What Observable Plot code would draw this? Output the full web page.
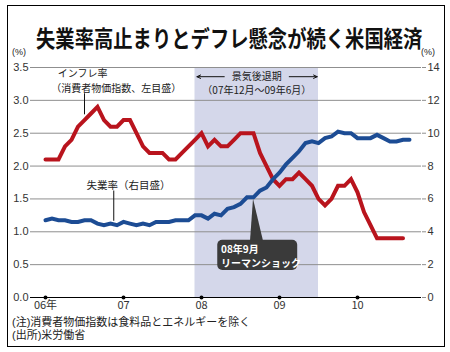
<!DOCTYPE html>
<html><head><meta charset="utf-8">
<script src="https://cdn.jsdelivr.net/npm/d3@7"></script>
<script src="https://cdn.jsdelivr.net/npm/@observablehq/plot@0.6"></script>
<style>
html,body{margin:0;padding:0;background:#fff;}
#wrap{position:relative;width:450px;height:352px;overflow:hidden;font-family:"Noto Sans CJK JP",sans-serif;}
#frame{position:absolute;left:7px;top:5px;width:436px;height:340px;border:1.5px solid #000;}
#title{position:absolute;left:0;width:450px;top:22px;text-align:center;font-size:23px;font-weight:700;line-height:30px;color:#111;white-space:nowrap;transform:scaleX(0.84);transform-origin:225px 0;}
.pct{position:absolute;top:47px;font-size:9px;color:#222;font-family:"Liberation Sans",sans-serif;}
.note{position:absolute;left:12px;font-size:11px;color:#222;line-height:13px;white-space:nowrap;font-family:"Liberation Sans","Noto Sans CJK JP",sans-serif;}
#chart{position:absolute;left:0;top:0;}
</style></head>
<body>
<div id="wrap">
  <div id="frame"></div>
  <div id="title">失業率高止まりとデフレ懸念が続く米国経済</div>
  <div class="pct" style="left:12px">(%)</div>
  <div class="pct" style="left:421px">(%)</div>
  <div id="chart"></div>
  <div class="note" style="top:316px">(注)消費者物価指数は食料品とエネルギーを除く</div>
  <div class="note" style="top:329px">(出所)米労働省</div>
</div>
<script>
// ---- data ----
const startYear = 2006;
const inflation = [2.1,2.1,2.1,2.3,2.4,2.6,2.7,2.8,2.9,2.7,2.6,2.6,
                   2.7,2.7,2.5,2.3,2.2,2.2,2.2,2.1,2.1,2.2,2.3,2.4,
                   2.5,2.3,2.4,2.3,2.3,2.4,2.5,2.5,2.5,2.2,2.0,1.8,
                   1.7,1.8,1.8,1.9,1.8,1.7,1.5,1.4,1.5,1.7,1.7,1.8,
                   1.6,1.3,1.1,0.9,0.9,0.9,0.9,0.9];
const unemployment = [4.7,4.8,4.7,4.7,4.6,4.6,4.7,4.7,4.5,4.4,4.5,4.4,
                      4.6,4.5,4.4,4.5,4.4,4.6,4.6,4.6,4.7,4.7,4.7,5.0,
                      5.0,4.8,5.1,5.0,5.4,5.5,5.7,6.1,6.1,6.5,6.7,7.2,
                      7.6,8.1,8.5,8.9,9.4,9.5,9.4,9.7,9.8,10.1,10.0,10.0,
                      9.7,9.7,9.7,9.9,9.7,9.5,9.5,9.6,9.6];
const yearTicks = [2006,2007,2008,2009,2010];
const yearLabels = ["06年","07","08","09","10"];
const leftTicks = [0,0.5,1.0,1.5,2.0,2.5,3.0,3.5];
const rightFactor = 4; // right axis (0-14) = left axis (0-3.5) x 4
const recession = {start: 2007 + 11/12, end: 2009 + 6/12};
const lehman = {t: 2008 + 8/12, u: 6.1};

const infData = inflation.map((v,i)=>({t: startYear + i/12, v}));
const unData = unemployment.map((v,i)=>({t: startYear + i/12, v: v/rightFactor}));

const axisFont = "Liberation Sans, Arial, sans-serif";
const jp = "Noto Sans CJK JP";

const plot = Plot.plot({
  width: 450, height: 352,
  marginTop: 67, marginBottom: 55, marginLeft: 30, marginRight: 29,
  x: {domain: [2006 - 15/78, 2006 + 376/78], axis: null},
  y: {domain: [0, 3.5], axis: null},
  style: {background: "transparent", fontFamily: axisFont, fontSize: "11px", color: "#333", overflow: "visible"},
  marks: [
    Plot.rect([recession], {x1: "start", x2: "end", y1: 0, y2: 3.5, fill: "#d4d7ea"}),
    Plot.ruleY(leftTicks.filter(d => d > 0), {stroke: "#8f8f8f", strokeWidth: 1}),
    Plot.ruleY([0], {stroke: "#000", strokeWidth: 1.2}),
    Plot.axisY(leftTicks, {anchor: "left", tickSize: 0, tickPadding: 2, tickFormat: d => d.toFixed(1), fontSize: 11, fill: "#333"}),
    Plot.axisY(leftTicks, {anchor: "right", tickSize: 4, tickPadding: 2, tickFormat: d => String(d*rightFactor), fontSize: 11, fill: "#333", stroke: "#8f8f8f"}),
    Plot.dot(yearTicks, {x: d => d, y: 0, r: 2, fill: "#000"}),
    Plot.axisX(yearTicks, {anchor: "bottom", tickSize: 0, tickPadding: 4, tickFormat: (d,i) => yearLabels[i], fontSize: 11, fill: "#333", fontFamily: jp}),
    // leaders
    Plot.ruleX([{t: 2006 + 6/12, y1: 3.1, y2: 2.78}], {x: "t", y1: "y1", y2: "y2", stroke: "#111", strokeWidth: 1}),
    Plot.ruleX([{t: 2006 + 10.5/12, y1: 1.62, y2: 1.16}], {x: "t", y1: "y1", y2: "y2", stroke: "#111", strokeWidth: 1}),
    // lines
    Plot.line(infData, {x: "t", y: "v", stroke: "#b9141d", strokeWidth: 4, strokeLinejoin: "miter", strokeMiterlimit: 2}),
    Plot.line(unData, {x: "t", y: "v", stroke: "#1c4c94", strokeWidth: 4, strokeLinejoin: "miter", strokeMiterlimit: 2}),
    // annotation texts
    Plot.text(["インフレ率"], {x: 2006 + 1.9/12, y: 3.4, text: d => d, textAnchor: "start", fontFamily: jp, fontSize: 10, fill: "#222"}),
    Plot.text(["（消費者物価指数、左目盛）"], {x: 2006 + 0.9/12, y: 3.17, text: d => d, textAnchor: "start", fontFamily: jp, fontSize: 10, fill: "#222"}),
    Plot.text(["失業率（右目盛）"], {x: 2006 + 6.3/12, y: 1.7, text: d => d, textAnchor: "start", fontFamily: jp, fontSize: 10.5, fill: "#222"}),
    Plot.text(["景気後退期"], {x: (recession.start + recession.end)/2, y: 3.36, text: d => d, textAnchor: "middle", fontFamily: jp, fontSize: 10, fill: "#222"}),
    Plot.text(["（07年12月～09年6月）"], {x: (recession.start + recession.end)/2, y: 3.14, text: d => d, textAnchor: "middle", fontFamily: jp, fontSize: 10, fill: "#222"}),
    Plot.arrow([{x1: recession.start + 4.5/12, x2: recession.start + 0.3/12, y: 3.36}, {x1: recession.end - 4.5/12, x2: recession.end - 0.2/12, y: 3.36}],
      {x1: "x1", x2: "x2", y1: "y", y2: "y", stroke: "#111", strokeWidth: 1, headLength: 6, headAngle: 50}),
    // Lehman callout box
    Plot.rect([{x1: 2008 + 2.5/12, x2: 2009 + 2.8/12, y1: 0.41, y2: 0.87}], {x1: "x1", x2: "x2", y1: "y1", y2: "y2", fill: "#3a3a3a", rx: 5}),
    Plot.text(["08年9月"], {x: 2008 + 3.0/12, y: 0.73, text: d => d, textAnchor: "start", fontFamily: jp, fontSize: 10, fontWeight: 700, fill: "#fff"}),
    Plot.text(["リーマンショック"], {x: 2008 + 3.0/12, y: 0.52, text: d => d, textAnchor: "start", fontFamily: jp, fontSize: 10, fontWeight: 700, fill: "#fff"})
  ]
});
document.getElementById("chart").appendChild(plot);

// pointer wedge from the callout box to the Lehman point on the unemployment line
const xs = plot.scale("x"), ys = plot.scale("y");
const tipX = xs.apply(lehman.t), tipY = ys.apply(lehman.u / rightFactor);
const baseY = ys.apply(0.87);
d3.select(plot).append("path")
  .attr("d", `M${tipX},${tipY + 2}L${tipX - 3},${baseY + 1}L${tipX + 10},${baseY + 1}Z`)
  .attr("fill", "#3a3a3a");
</script>
</body></html>
